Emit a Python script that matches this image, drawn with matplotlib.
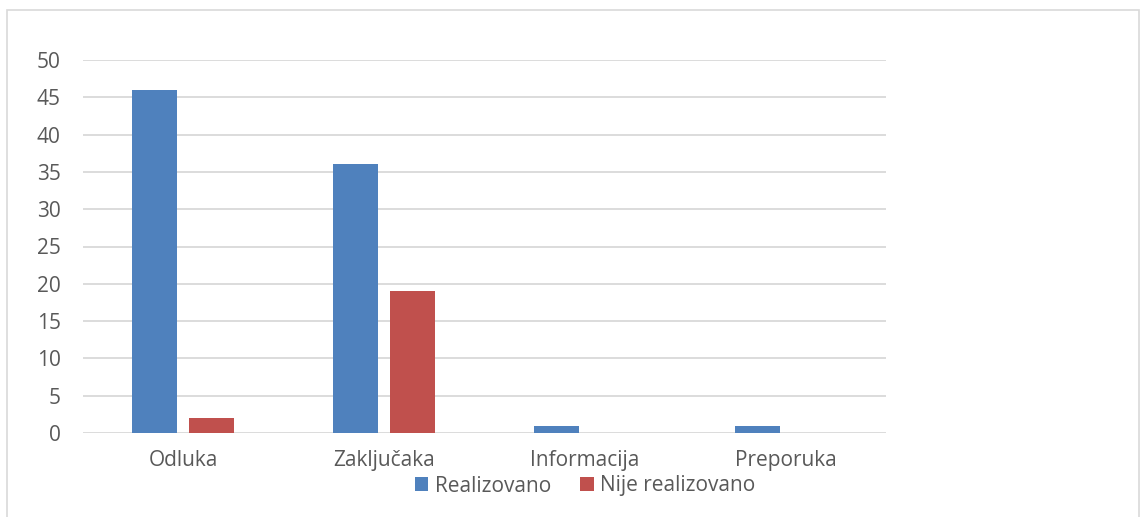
import numpy as np
import matplotlib.pyplot as plt
from matplotlib.patches import Rectangle, Patch

# ------------------- podaci -------------------
categories = ['Odluka', 'Zaključaka', 'Informacija', 'Preporuka']
realizovano = [46, 36, 1, 1]
nije_realizovano = [2, 19, 0, 0]
series_names = ['Realizovano', 'Nije realizovano']
y_ticks = [0, 5, 10, 15, 20, 25, 30, 35, 40, 45, 50]

blue = '#4F81BD'
red = '#C0504D'
grid_col = '#D9D9D9'
text_col = '#595959'

plt.rcParams['font.family'] = ['Open Sans', 'DejaVu Sans']

fig = plt.figure(figsize=(11.4, 5.17), dpi=100)
fig.patch.set_facecolor('white')
# okvir grafikona
fig.patches.append(Rectangle((7 / 1140, -0.01), 1132 / 1140, 1 - 10 / 517 + 0.01,
                             transform=fig.transFigure, fill=False,
                             edgecolor=grid_col, linewidth=1.2))

ax = fig.add_axes([83 / 1140, 1 - 433 / 517, 803 / 1140, 373 / 517])

x = np.arange(len(categories))
w = 0.224
off = 0.142
ax.bar(x - off, realizovano, w, color=blue, zorder=3)
ax.bar(x + off, nije_realizovano, w, color=red, zorder=3)

ax.set_xlim(-0.5, len(categories) - 0.5)
ax.set_ylim(0, 50)
ax.set_yticks(y_ticks)
ax.set_xticks(x)
ax.set_xticklabels(categories)
ax.yaxis.grid(True, color=grid_col, linewidth=1.3, zorder=0)
ax.set_axisbelow(True)
for s in ax.spines.values():
    s.set_visible(False)
ax.tick_params(axis='both', length=0, labelsize=15, labelcolor=text_col)
ax.tick_params(axis='y', pad=16)
ax.tick_params(axis='x', pad=12)

handles = [Patch(facecolor=blue), Patch(facecolor=red)]
fig.legend(handles, series_names, loc='center', bbox_to_anchor=(585 / 1140, 1 - 486 / 517),
           ncol=2, frameon=False, fontsize=15, labelcolor=text_col,
           handlelength=0.65, handleheight=0.65, handletextpad=0.3, columnspacing=1.4)

fig.savefig('out.png', dpi=100)
